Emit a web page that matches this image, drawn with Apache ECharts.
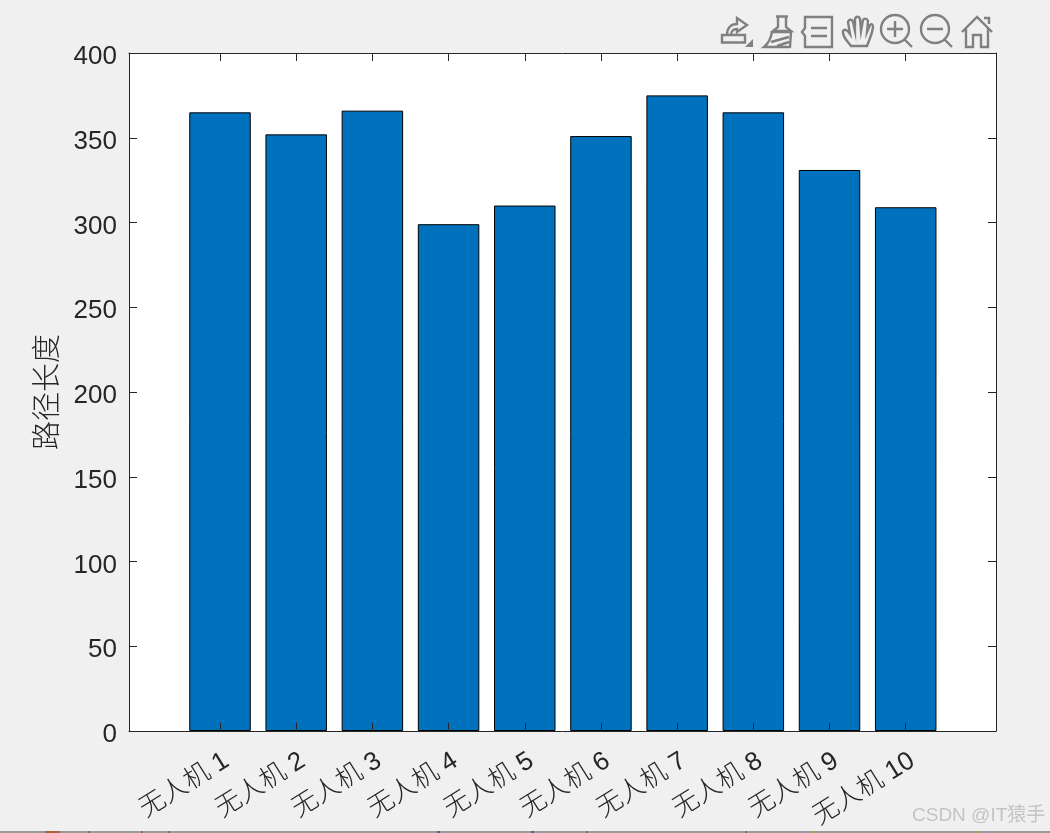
<!DOCTYPE html>
<html>
<head>
<meta charset="utf-8">
<style>html,body{margin:0;padding:0;background:#f0f0f0}#chart{width:1050px;height:833px}</style>
<script src="https://cdn.jsdelivr.net/npm/echarts@6/dist/echarts.min.js"></script>
</head>
<body>
<div id="chart"></div>
<script>
// Path length flown by each drone
const droneNames = ['无人机 1','无人机 2','无人机 3','无人机 4','无人机 5','无人机 6','无人机 7','无人机 8','无人机 9','无人机 10'];
const pathLengths = [365, 352, 366, 299, 310, 351, 375, 365, 331, 309];
const dronePositions = [1, 2, 3, 4, 5, 6, 7, 8, 9, 10];
const yAxisLabel = '路径长度';
const watermark = 'CSDN @IT猿手';

const ink = '#262626';
const iconGrey = '#808080';
const fontStack = '"Liberation Sans", "Noto Sans CJK SC", sans-serif';
const xLimits = [-0.1945, 11.185];
const yLimits = [0, 400];

// Figure toolbar glyphs, each one a stroked outline
const toolbarIcons = [
  'M722 35 L745 35 L745 42.5 L722 42.5 Z M727 35 C727 28 731 24 737 24 L737 18 L747 25 L737 32 L737 29 C733 29 731 32 731 35',
  'M776 16.5 L788 16.5 M778 17 L778 27 L773 31 L791 31 L786 27 L786 17 M772 32 L791 32 L790 47 L764 47 C769 43 771 38 772 32 M771 42 L789 37 M777 46 L789 42',
  'M805 17 L832 17 L832 47 L805 47 L805 36 L802 32 L805 28 Z M811 28 L827 28 M811 36 L827 36',
  'M851 46 C847 41 842 36 843 31 C845 28 848 31 850 34 L848 22 C849 19 852 19 853 22 L855 31 L855 19 C856 16 859 16 860 19 L861 31 L863 20 C864 18 867 18 868 21 L867 32 L870 25 C872 23 873 25 873 27 C872 35 869 40 867 46 Z',
  'M909 29 A14 14 0 1 1 881 29 A14 14 0 1 1 909 29 M904 39 L912 47 M895 21 L895 37 M887 29 L903 29',
  'M949 29 A14 14 0 1 1 921 29 A14 14 0 1 1 949 29 M944 39 L952 47 M927 29 L943 29',
  'M962 32 L977 17 L992 32 M966 28 L966 47 L973 47 L973 35 L981 35 L981 47 L988 47 L988 28 M984 18 L989 18 L989 24'
];
toolbarIcons.forEach((d, i) => {
  echarts.graphic.registerShape('toolIcon' + i, echarts.graphic.extendPath(d, {}));
});

// Slivers of colour along the lower window edge: [x, width, colour]
const edgeSlivers = [
  [45, 15, '#a8623c'], [88, 2, '#a8623c'], [141, 2, '#a8623c'], [168, 2, '#a8623c'],
  [437, 3, '#3d6f8e'], [531, 3, '#3d6f8e'], [586, 2, '#a8623c'], [745, 2, '#a8623c'],
  [814, 2, '#b8923c'], [975, 2, '#b8923c']
];

const chart = echarts.init(document.getElementById('chart'), null, { renderer: 'canvas' });

const axisLine = { show: true, onZero: false, lineStyle: { color: ink, width: 1 } };
const insideTick = { show: true, inside: true, length: 8, lineStyle: { color: ink, width: 1 } };

chart.setOption({
  backgroundColor: '#f0f0f0',
  animation: false,
  grid: { left: 129, right: 54, top: 53, bottom: 102, show: true, backgroundColor: '#ffffff', borderWidth: 0 },
  xAxis: [
    {
      type: 'value', position: 'bottom', min: xLimits[0], max: xLimits[1],
      axisLine, splitLine: { show: false }, z: 5,
      axisTick: { ...insideTick, customValues: dronePositions },
      axisLabel: {
        customValues: dronePositions, rotate: 32, margin: 32, padding: [0, -8, 0, 0],
        color: ink, fontSize: 26, fontFamily: fontStack, fontWeight: 300,
        formatter: v => droneNames[Math.round(v) - 1]
      }
    },
    {
      type: 'value', position: 'top', min: xLimits[0], max: xLimits[1],
      axisLine, splitLine: { show: false }, z: 5,
      axisTick: { ...insideTick, customValues: dronePositions },
      axisLabel: { show: false, customValues: dronePositions }
    }
  ],
  yAxis: [
    {
      type: 'value', position: 'left', min: yLimits[0], max: yLimits[1], interval: 50,
      axisLine, axisTick: insideTick, splitLine: { show: false }, z: 5,
      axisLabel: { color: ink, fontSize: 26, fontFamily: fontStack, margin: 12, verticalAlign: 'top', lineHeight: 8 },
      name: yAxisLabel, nameLocation: 'middle', nameGap: 65, nameMoveOverlap: false,
      nameTextStyle: { color: ink, fontSize: 29, fontFamily: fontStack, fontWeight: 300 }
    },
    {
      type: 'value', position: 'right', min: yLimits[0], max: yLimits[1], interval: 50,
      axisLine, axisTick: insideTick, splitLine: { show: false }, z: 5,
      axisLabel: { show: false }
    }
  ],
  series: [{
    type: 'bar',
    data: dronePositions.map((p, i) => [p, pathLengths[i]]),
    barWidth: 61.5,
    itemStyle: { color: '#0072BD', borderColor: '#000000', borderWidth: 1 },
    z: 2
  }],
  graphic: [
    ...toolbarIcons.map((d, i) => ({
      type: 'toolIcon' + i, silent: true,
      style: { fill: 'none', stroke: iconGrey, lineWidth: 2.4 }
    })),
    {
      type: 'polygon', silent: true,
      shape: { points: [[753, 39], [753, 47], [745, 47]] },
      style: { fill: iconGrey }
    },
    {
      type: 'rect', silent: true,
      shape: { x: 0, y: 831, width: 1050, height: 2 },
      style: { fill: '#9a9a9a' }
    },
    ...edgeSlivers.map(([x, w, c]) => ({
      type: 'rect', silent: true,
      shape: { x, y: 831, width: w, height: 2 },
      style: { fill: c }
    })),
    {
      type: 'text', silent: true, x: 912, y: 806,
      style: { text: watermark, fill: '#c4c4c4', fontSize: 19, fontFamily: fontStack }
    }
  ]
});
</script>
</body>
</html>
